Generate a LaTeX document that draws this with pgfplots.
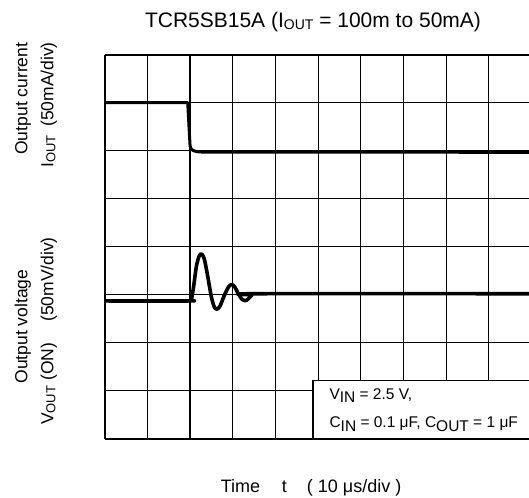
\documentclass[border=0pt]{standalone}
\usepackage{pgfplots}
\pgfplotsset{compat=1.18}
\usepackage{fontspec}
\setmainfont{Liberation Sans}

\begin{document}
\begin{tikzpicture}
% page = 529 x 497, plot area lower-left at (0,0)
\path[use as bounding box] (-104.7pt,-58.3pt) rectangle (424.3pt,438.7pt);

\begin{axis}[
at={(0,0)}, anchor=south west,
scale only axis,
width=424.3pt, height=384pt,
xmin=0, xmax=9.94,
ymin=0, ymax=8,
axis x line*=bottom,
axis y line*=left,
axis line style={line width=2pt, black},
xtick={1,...,9},
ytick={1,...,7},
xticklabels={}, yticklabels={},
major tick length=0pt,
grid=major,
major grid style={black, line width=1.2pt},
clip=false,
]
% output current
\addplot[black, line width=3pt, line join=round] coordinates {
(0,7) (1.945,7) (1.975,6.5) (2.0,6.1) (2.03,6.03) (2.08,6.0) (2.16,5.98) (2.3,5.97) (9.94,5.967)
};
% output voltage
\addplot[black, line width=3.6pt, smooth, tension=0.5, line join=round] coordinates {
(0,2.87) (1.98,2.87) (2.03,2.9) (2.08,3.15) (2.15,3.6) (2.22,3.82) (2.28,3.84) (2.34,3.72)
(2.42,3.35) (2.5,2.95) (2.57,2.74) (2.63,2.70) (2.7,2.76) (2.8,2.98) (2.9,3.16) (2.97,3.21)
(3.04,3.17) (3.13,3.02) (3.22,2.9) (3.29,2.875) (3.36,2.91) (3.45,2.99) (3.52,3.02) (9.94,3.02)
};
% top frame line
\draw[line width=1.8pt] (axis cs:0,8) -- (axis cs:9.94,8);
% condition box
\fill[white] (axis cs:4.88,0) rectangle (axis cs:9.94,1.21);
\draw[line width=1.5pt] (axis cs:4.88,0) |- (axis cs:9.94,1.21);
\draw[line width=2pt] (axis cs:4.88,0) -- (axis cs:9.94,0);
\end{axis}

% title
\node[anchor=base, font=\fontsize{21}{25}\selectfont] at (208.3pt,411.4pt)
  {TCR5SB15A (I\raisebox{-2.5pt}{\fontsize{14}{15}\selectfont OUT} = 100m to 50mA)};

% condition text
\node[anchor=base west, inner sep=0pt, font=\fontsize{15.5}{17}\selectfont] at (224.6pt,38.7pt)
  {V\raisebox{-3pt}{IN} = 2.5 V,};
\node[anchor=base west, inner sep=0pt, font=\fontsize{15.5}{17}\selectfont] at (224.6pt,10.7pt)
  {C\raisebox{-3pt}{IN} = 0.1 μF, C\raisebox{-3pt}{OUT} = 1 μF};

% x label
\node[anchor=base west, inner sep=0pt, font=\fontsize{18}{21}\selectfont] at (116pt,-53.3pt) {Time};
\node[anchor=base west, inner sep=0pt, font=\fontsize{18}{21}\selectfont] at (177pt,-53.3pt) {t};
\node[anchor=base west, inner sep=0pt, font=\fontsize{18}{21}\selectfont] at (202pt,-53.3pt) {( 10 μs/div )};

% y labels, current
\node[rotate=90, anchor=base, inner sep=0pt, font=\fontsize{17.5}{20}\selectfont] at (-77.2pt,340pt) {Output current};
\node[rotate=90, anchor=base west, inner sep=0pt, font=\fontsize{17.5}{20}\selectfont] at (-51.4pt,270.7pt)
  {I\raisebox{-2pt}{\fontsize{13}{14}\selectfont OUT}};
\node[rotate=90, anchor=base east, inner sep=0pt, font=\fontsize{17.5}{20}\selectfont] at (-51.4pt,396.7pt) {(50mA/div)};

% y labels, voltage
\node[rotate=90, anchor=base, inner sep=0pt, font=\fontsize{17.5}{20}\selectfont] at (-77.2pt,112.2pt) {Output voltage};
\node[rotate=90, anchor=base west, inner sep=0pt, font=\fontsize{17.5}{20}\selectfont] at (-51.4pt,13.7pt)
  {V\raisebox{-2pt}{\fontsize{13}{14}\selectfont OUT} (ON)};
\node[rotate=90, anchor=base east, inner sep=0pt, font=\fontsize{17.5}{20}\selectfont] at (-51.4pt,201.7pt) {(50mV/div)};
\end{tikzpicture}
\end{document}
